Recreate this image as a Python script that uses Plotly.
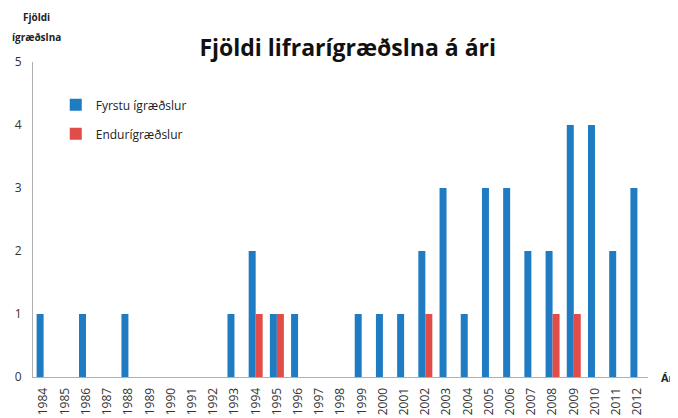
import plotly.graph_objects as go

years = [str(y) for y in range(1984, 2013)]
fyrstu = [1, 0, 1, 0, 1, 0, 0, 0, 0, 1, 2, 1, 1, 0, 0, 1, 1, 1, 2, 3, 1, 3, 3, 2, 2, 4, 4, 2, 3]
endur = [0, 0, 0, 0, 0, 0, 0, 0, 0, 0, 1, 1, 0, 0, 0, 0, 0, 0, 1, 0, 0, 0, 0, 0, 1, 1, 0, 0, 0]
yticks = [0, 1, 2, 3, 4, 5]

FONT = "'Open Sans', Lato, sans-serif"

fig = go.Figure()
fig.add_trace(go.Bar(x=years, y=fyrstu, name="Fyrstu ígræðslur", legendgroup="a",
                     marker=dict(color="#1f7bc2", line=dict(width=0))))
fig.add_trace(go.Bar(x=years, y=endur, name="Endurígræðslur", legendgroup="b",
                     marker=dict(color="#e24c48", line=dict(width=0))))

# page body has an 8px default margin, so the figure is 8px smaller and offset
fig.update_layout(
    width=670, height=410,
    margin=dict(l=25, r=30, t=54, b=41),
    paper_bgcolor="white", plot_bgcolor="white",
    barmode="group", bargap=0.34, bargroupgap=0,
    font=dict(family=FONT, color="#333333", size=11),
    title=dict(text="<b>Fjöldi lifrarígræðslna á ári</b>", xref="container", x=0.507, xanchor="center",
               yref="container", y=0.902, yanchor="middle",
               font=dict(family=FONT, size=23, color="#111111")),
    legend=dict(x=0.037, y=0.91, xanchor="left", yanchor="top", bgcolor="rgba(0,0,0,0)",
                font=dict(family=FONT, size=12, color="#222222"), tracegroupgap=10, itemwidth=30),
    showlegend=True,
    xaxis=dict(type="category", tickangle=-90, showline=True, linecolor="#b0b0b0", linewidth=1,
               ticks="", showgrid=False, tickfont=dict(size=12, color="#333333"), automargin=False,
               ticklabelstandoff=5),
    yaxis=dict(range=[0, 5], tickvals=yticks, showline=True, linecolor="#b0b0b0", linewidth=1,
               ticks="", showgrid=False, zeroline=False, tickfont=dict(size=12, color="#333333"),
               automargin=False, ticklabelstandoff=8),
)

fig.add_annotation(text="<b>Fjöldi</b>", xref="paper", yref="paper", x=0.0065, y=1.143,
                   xanchor="center", yanchor="middle", showarrow=False,
                   font=dict(family=FONT, size=10, color="#222222"))
fig.add_annotation(text="<b>ígræðslna</b>", xref="paper", yref="paper", x=0.0065, y=1.079,
                   xanchor="center", yanchor="middle", showarrow=False,
                   font=dict(family=FONT, size=10, color="#222222"))
fig.add_annotation(text="<b>Ár</b>", xref="paper", yref="paper", x=1.0, xshift=11, y=0.0,
                   xanchor="left", yanchor="middle", showarrow=False,
                   font=dict(family=FONT, size=11, color="#222222"))

fig.write_html("out.html")
